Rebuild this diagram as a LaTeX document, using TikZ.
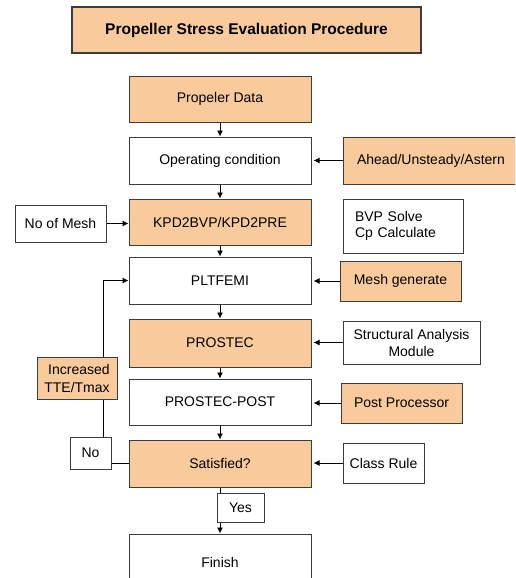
\documentclass[tikz,border=0pt]{standalone}
\usepackage{fontspec}
\setmainfont{Liberation Sans}
\usetikzlibrary{arrows.meta}
\definecolor{boxorange}{RGB}{249,203,156}
\definecolor{boxline}{RGB}{60,60,60}
\tikzset{
  base/.style={draw=boxline, line width=1pt, inner sep=0pt, font=\fontsize{14}{16}\selectfont, anchor=center},
  obox/.style={base, fill=boxorange},
  wbox/.style={base, fill=white},
  arr/.style={-{Latex[length=6pt,width=6pt]}, line width=0.9pt, black},
  ln/.style={line width=0.9pt, black}
}
\begin{document}
\begin{tikzpicture}[x=1pt,y=-1pt]
\useasboundingbox (0,0) rectangle (515,578);
\clip (0,0) rectangle (515,578);
\fill[white] (0,0) rectangle (515,578);
% title
\node[obox, line width=1.3pt, minimum width=349pt, minimum height=46pt, font=\fontsize{15.5}{18}\selectfont\bfseries] (title) at (246.5,30) {Propeller Stress Evaluation Procedure};
% main column
\node[obox, minimum width=182pt, minimum height=46pt] (pd) at (220,99) {Propeler Data};
\node[wbox, minimum width=182pt, minimum height=47pt] (oc) at (220,160.5) {Operating condition};
\node[obox, minimum width=182pt, minimum height=46pt] (kpd) at (220,222) {KPD2BVP/KPD2PRE};
\node[wbox, minimum width=182pt, minimum height=47pt] (plt) at (220,280.5) {PLTFEMI};
\node[obox, minimum width=182pt, minimum height=48pt] (pro) at (220,343) {PROSTEC};
\node[wbox, minimum width=182pt, minimum height=46pt] (pp) at (220,402) {PROSTEC-POST};
\node[obox, minimum width=182pt, minimum height=47pt] (sat) at (220,463.5) {Satisfied?};
\node[wbox, minimum width=182pt, minimum height=56pt] (fin) at (220,562) {Finish};
% side boxes
\node[obox, minimum width=176pt, minimum height=47pt] (ah) at (431,160.5) {Ahead/Unsteady/Astern};
\node[wbox, minimum width=91pt, minimum height=37pt] (nom) at (60.5,223.5) {No of Mesh};
\node[wbox, minimum width=120pt, minimum height=54pt, inner xsep=12pt, text width=96pt, align=left] (bvp) at (403,226) {BVP Solve\\Cp Calculate};
\node[obox, minimum width=121pt, minimum height=40pt] (mg) at (400.5,281) {Mesh generate};
\node[wbox, minimum width=137pt, minimum height=43pt, align=center, font=\fontsize{14}{17}\selectfont] (sam) at (411.5,342.5) {Structural Analysis\\Module};
\node[obox, minimum width=121pt, minimum height=40pt] (ppr) at (401.5,403) {Post Processor};
\node[wbox, minimum width=81pt, minimum height=40pt] (cr) at (383.5,463) {Class Rule};
\node[wbox, minimum width=41pt, minimum height=32pt] (no) at (90.5,453) {No};
% connectors
\draw[arr] (pd) -- (oc);
\draw[arr] (oc) -- (kpd);
\draw[arr] (kpd) -- (plt);
\draw[arr] (plt) -- (pro);
\draw[arr] (pro) -- (pp);
\draw[arr] (pp) -- (sat);
\draw[arr] (sat) -- (fin);
\draw[arr, shorten >=2pt] (ah.west) -- (ah.west -| oc.east);
\draw[arr] (nom.east) -- (nom.east -| kpd.west);
\draw[arr, shorten >=2pt] (mg.west) -- (mg.west -| plt.east);
\draw[arr, shorten >=2pt] (sam.west) -- (sam.west -| pro.east);
\draw[arr, shorten >=2pt] (ppr.west) -- (ppr.west -| pp.east);
\draw[arr, shorten >=2pt] (cr.west) -- (cr.west -| sat.east);
\draw[ln] (sat.west) -- (sat.west -| no.east);
\draw[arr] ([xshift=12.5pt]no.north) |- (plt.west);
% labels over lines
\node[obox, minimum width=80pt, minimum height=42pt, align=right, inner xsep=5pt, font=\fontsize{14}{18}\selectfont] (inc) at (77,378) {Increased\\TTE/Tmax};
\node[wbox, minimum width=47pt, minimum height=29pt] (yes) at (240.5,507.5) {Yes};
\end{tikzpicture}
\end{document}
